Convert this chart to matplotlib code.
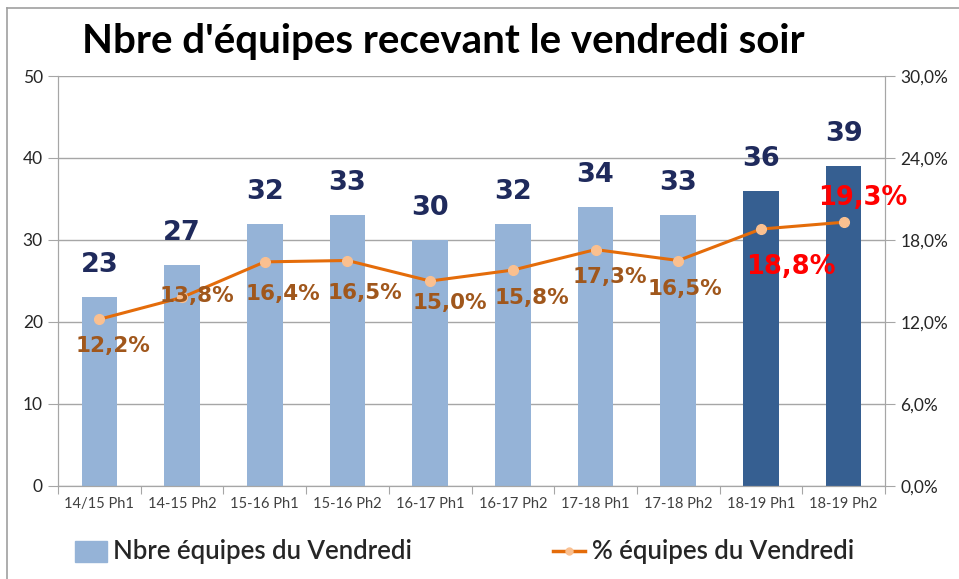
import matplotlib
matplotlib.use("Agg")
import matplotlib.pyplot as plt
from matplotlib.ticker import FuncFormatter
from matplotlib.patches import Rectangle
from matplotlib.lines import Line2D

categories = ["14/15 Ph1", "14-15 Ph2", "15-16 Ph1", "15-16 Ph2", "16-17 Ph1",
              "16-17 Ph2", "17-18 Ph1", "17-18 Ph2", "18-19 Ph1", "18-19 Ph2"]
nbre = [23, 27, 32, 33, 30, 32, 34, 33, 36, 39]
pct = [12.2, 13.8, 16.4, 16.5, 15.0, 15.8, 17.3, 16.5, 18.8, 19.3]
highlight = [False] * 8 + [True, True]
# label offsets for percentage labels (pixels)
pct_off = [(14, -27), (15, 1), (18, -32), (17, -33), (20, -22), (19, -28), (14, -27), (7, -29), (30, -38), (19, 24)]

W, H = 959, 579
fig = plt.figure(figsize=(W / 100, H / 100), dpi=100)
fig.patch.set_facecolor("white")

def fx(px):
    return px / W

def fy(py):
    return 1 - py / H

# outer frame
fig.add_artist(Line2D([fx(7), fx(7)], [fy(8), fy(579)], color="#a0a0a0", lw=1.2))
fig.add_artist(Line2D([fx(7), fx(959)], [fy(8), fy(8)], color="#a0a0a0", lw=1.2))

ax = fig.add_axes([fx(58), fy(486), fx(885 - 58), fy(76) - fy(486)])
ax2 = ax.twinx()

x = list(range(len(categories)))
light = "#95b3d7"
dark = "#365f91"
bar_colors = [dark if h else light for h in highlight]
ax.bar(x, nbre, width=0.43, color=bar_colors, zorder=2)
ax.set_xlim(-0.5, len(categories) - 0.5)
ax.set_ylim(0, 50)
ax.set_yticks(range(0, 51, 10))
ax.yaxis.grid(True, color="#a6a6a6", lw=1.0, zorder=0)
ax.set_axisbelow(True)
ax.set_xticks([i - 0.5 for i in range(len(categories) + 1)], minor=False)
ax.set_xticklabels([])
ax.set_xticks(x, minor=True)
ax.set_xticklabels(categories, minor=True, fontsize=10.5, family="Lato", color="#404040")
ax.tick_params(axis="x", which="minor", length=0, pad=8)
ax.tick_params(axis="x", which="major", length=6, color="#a6a6a6", direction="out")
ax.tick_params(axis="y", length=7, color="#a6a6a6", labelsize=12.5, labelcolor="#262626", pad=4)
for lab in ax.get_yticklabels():
    lab.set_family("Lato")
for s in ["top"]:
    ax.spines[s].set_visible(False)
for s in ["left", "bottom", "right"]:
    ax.spines[s].set_color("#a6a6a6")

ax2.plot(x, pct, color="#e46c0a", lw=2.2, marker="o", markersize=7,
         markerfacecolor="#fac090", markeredgecolor="#fac090", zorder=3)
ax2.set_ylim(0, 30)
ax2.set_yticks(range(0, 31, 6))
ax2.yaxis.set_major_formatter(FuncFormatter(lambda v, p: f"{v:.1f}%".replace(".", ",")))
ax2.tick_params(axis="y", length=7, color="#a6a6a6", labelsize=12.5, labelcolor="#262626", pad=4)
for lab in ax2.get_yticklabels():
    lab.set_family("Lato")
ax2.spines["top"].set_visible(False)
for s in ["left", "bottom", "right"]:
    ax2.spines[s].set_color("#a6a6a6")

# bar labels
for i, v in enumerate(nbre):
    ax.annotate(str(v), (i, v), xytext=(0, 32), textcoords="offset pixels",
                ha="center", va="center", fontsize=19.5, fontweight="bold",
                color="#1f2a5c", family="DejaVu Sans", zorder=5)

# percentage labels
for i, v in enumerate(pct):
    col = "#ff0000" if highlight[i] else "#a0571c"
    size = 18.5 if highlight[i] else 15.5
    dx, dy = pct_off[i]
    ax2.annotate(f"{v:.1f}%".replace(".", ","), (i, v), xytext=(dx, dy),
                 textcoords="offset pixels", ha="center", va="center",
                 fontsize=size, fontweight="bold", color=col,
                 family="DejaVu Sans", zorder=6)

# title
fig.text(fx(443), fy(42), "Nbre d'équipes recevant le vendredi soir", ha="center", va="center",
         fontsize=29, fontweight="bold", family="Lato", color="black")

# legend
fig.add_artist(Rectangle((fx(75), fy(562)), fx(32), fy(541) - fy(562), color=light))
fig.text(fx(113), fy(551), "Nbre équipes du Vendredi", ha="left", va="center",
         fontsize=18.5, fontweight="semibold", family="Lato", color="#262626")
fig.add_artist(Line2D([fx(553), fx(585)], [fy(551), fy(551)], color="#e46c0a", lw=2.5))
fig.add_artist(Line2D([fx(569)], [fy(551)], marker="o", markersize=5, color="#fac090", lw=0))
fig.text(fx(592), fy(551), "% équipes du Vendredi", ha="left", va="center",
         fontsize=18.5, fontweight="semibold", family="Lato", color="#262626")

fig.savefig("out.png", dpi=100)
